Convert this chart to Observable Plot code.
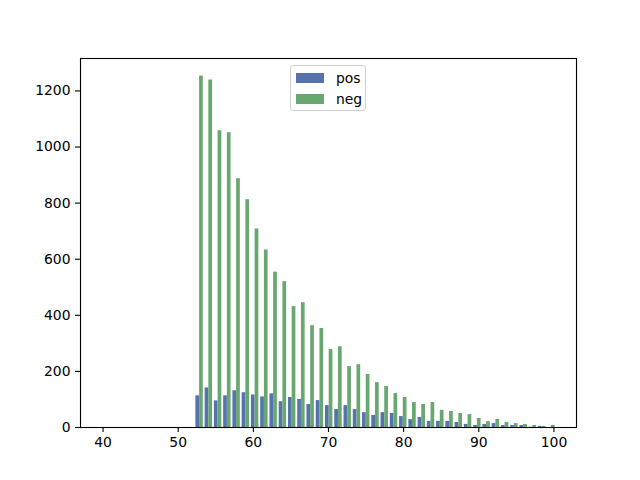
<!DOCTYPE html>
<html>
<head>
<meta charset="utf-8">
<script src="https://cdn.jsdelivr.net/npm/d3@7"></script>
<script src="https://cdn.jsdelivr.net/npm/@observablehq/plot@0.6"></script>
<style>
  html, body { margin: 0; padding: 0; background: #fff; }
  #wrap { position: relative; width: 640px; height: 480px; font-family: "DejaVu Sans", sans-serif; }
  #legend { position: absolute; left: 290px; top: 65px; width: 76px; height: 46px; box-sizing: border-box;
            border: 1px solid #d0d0d0; border-radius: 3px; background: rgba(255,255,255,0.8); font-size: 13.9px; }
  .item { position: absolute; left: 5px; display: flex; align-items: center; }
  .sw { width: 28px; height: 10px; margin-right: 12px; }
</style>
</head>
<body>
<div id="wrap"></div>
<script>
// histogram bins (only bins holding data are listed; the histogram range spans 39.91 .. 100.28)
const binStart = 52.23;     // left edge of first non-empty bin
const binWidth = 1.232;
const seriesNames = ["pos", "neg"];
const pos = [113, 141, 95, 113, 131, 124, 116, 109, 120, 92, 107, 100, 82, 96, 78, 64, 78, 64, 53, 43,
             53, 50, 39, 28, 36, 22, 22, 22, 18, 11, 7, 11, 14, 7, 7, 7, 1, 4, 0];
const neg = [1253, 1239, 1058, 1051, 887, 812, 708, 633, 554, 520, 431, 445, 363, 353, 278, 288, 217, 224, 189, 160,
             146, 121, 107, 89, 82, 89, 61, 57, 50, 46, 32, 21, 29, 18, 14, 11, 7, 4, 7];
const xTicks = [40, 50, 60, 70, 80, 90, 100];
const yTicks = [0, 200, 400, 600, 800, 1000, 1200];
const colors = ["#5773AE", "#68A76F"];

const rows = [];
pos.forEach((v, i) => {
  const c = binStart + (i + 0.5) * binWidth;
  rows.push({series: "pos", x1: c - 0.4 * binWidth, x2: c, v});
  rows.push({series: "neg", x1: c, x2: c + 0.4 * binWidth, v: neg[i]});
});

const chart = Plot.plot({
  width: 640,
  height: 480,
  marginLeft: 80,
  marginRight: 64,
  marginTop: 58,
  marginBottom: 53,
  style: {fontFamily: "DejaVu Sans, sans-serif", fontSize: "13.9px", background: "#fff", color: "#000"},
  x: {domain: [37, 103]},
  y: {domain: [0, 1315.6]},
  color: {domain: seriesNames, range: colors},
  marks: [
    Plot.rectY(rows, {x1: "x1", x2: "x2", y: "v", fill: "series", inset: 0}),
    Plot.frame({stroke: "#000", strokeWidth: 1.1}),
    Plot.axisX({ticks: xTicks, tickFormat: d => String(d), tickSize: 5, tickPadding: 5, label: null, stroke: "#000", strokeWidth: 1.1, fill: "#000"}),
    Plot.axisY({ticks: yTicks, tickFormat: d => String(d), tickSize: 5, tickPadding: 5, label: null, stroke: "#000", strokeWidth: 1.1, fill: "#000"})
  ]
});
document.getElementById("wrap").appendChild(chart);

const legend = document.createElement("div");
legend.id = "legend";
seriesNames.forEach((name, i) => {
  const it = document.createElement("div");
  it.className = "item";
  it.style.top = (4 + i * 21) + "px";
  const sw = document.createElement("div");
  sw.className = "sw";
  sw.style.background = colors[i];
  const t = document.createElement("span");
  t.textContent = name;
  it.appendChild(sw);
  it.appendChild(t);
  legend.appendChild(it);
});
document.getElementById("wrap").appendChild(legend);
</script>
</body>
</html>
